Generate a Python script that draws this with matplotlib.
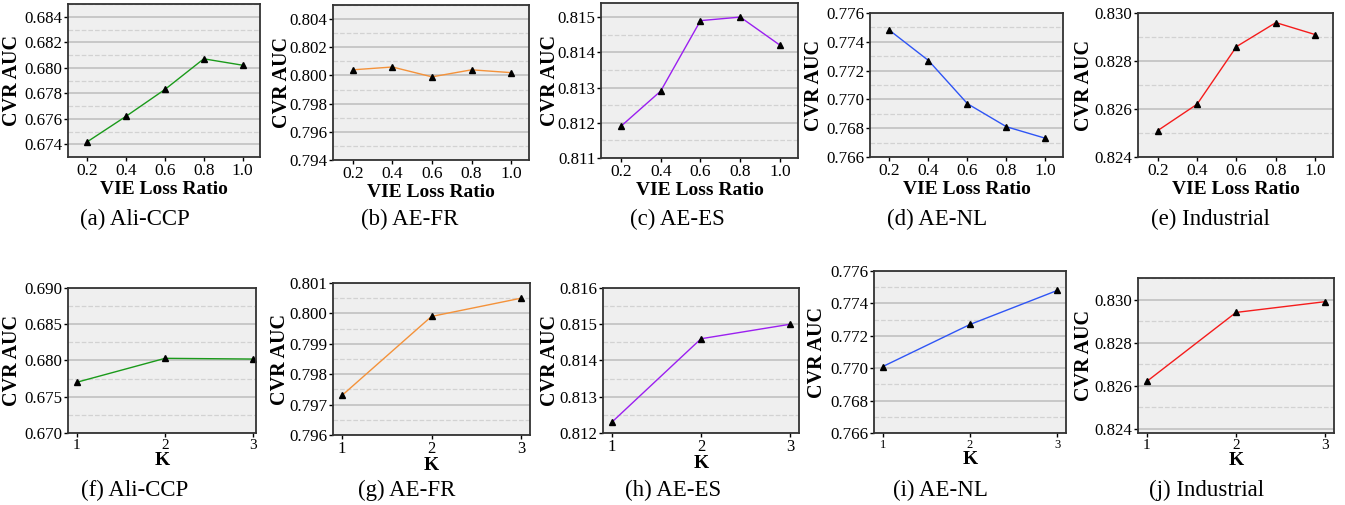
import matplotlib
matplotlib.use("Agg")
import matplotlib.pyplot as plt
from matplotlib.ticker import MultipleLocator, FormatStrFormatter

plt.rcParams['font.family'] = ['Liberation Serif', 'DejaVu Serif']

W, H = 1345, 505

ratio = [0.2, 0.4, 0.6, 0.8, 1.0]
k_vals = [1, 2, 3]

datasets = ['Ali-CCP', 'AE-FR', 'AE-ES', 'AE-NL', 'Industrial']
colors = ['#1a9a1a', '#f4923a', '#9b1ff0', '#2f55f5', '#f51c1c']

auc_ratio = [
    [0.6742, 0.6762, 0.6783, 0.6807, 0.6802],
    [0.8004, 0.8006, 0.7999, 0.8004, 0.8002],
    [0.8119, 0.8129, 0.8149, 0.8150, 0.8142],
    [0.7748, 0.7727, 0.7697, 0.7681, 0.7673],
    [0.8251, 0.8262, 0.8286, 0.8296, 0.8291],
]
auc_k = [
    [0.6770, 0.6803, 0.6802],
    [0.7973, 0.7999, 0.8005],
    [0.8123, 0.8146, 0.8150],
    [0.7701, 0.7727, 0.7748],
    [0.8262, 0.8294, 0.8299],
]

# axes limits / tick steps per panel
ylim_ratio = [(0.673, 0.685), (0.794, 0.805), (0.811, 0.8154), (0.766, 0.776), (0.824, 0.830)]
ystep_ratio = [0.002, 0.002, 0.001, 0.002, 0.002]
ylim_k = [(0.670, 0.690), (0.796, 0.801), (0.812, 0.816), (0.766, 0.776), (0.8238, 0.831)]
ystep_k = [0.005, 0.001, 0.001, 0.002, 0.002]

# pixel boxes (left, top, right, bottom)
box_ratio = [(68, 4, 260, 157), (333, 5, 529, 160), (601, 3, 798, 158),
             (870, 13, 1063, 157), (1138, 13, 1333, 157)]
box_k = [(68, 288, 256, 433), (333, 283, 530, 435), (603, 288, 799, 433),
         (874, 271, 1066, 433), (1138, 278, 1334, 433)]
# centre (in pixels) of the rotated y labels
ylab_x_top = [15, 285, 553, 817, 1087]
ylab_x_bot = [15, 283, 553, 820, 1087]
cap_x_top = [135, 410, 677, 937, 1210]
cap_x_bot = [135, 407, 673, 940, 1207]
k_tick_size = [11, 12, 12, 9, 11]

fig = plt.figure(figsize=(W / 100, H / 100), dpi=100)


def make_ax(box):
    l, t, r, b = box
    return fig.add_axes([l / W, 1 - b / H, (r - l) / W, (b - t) / H])


def style(ax, box, ylim, step, xlabel, ylab_x):
    ax.set_facecolor('#efefef')
    ax.set_ylim(*ylim)
    ax.yaxis.set_major_locator(MultipleLocator(step))
    ax.yaxis.set_minor_locator(MultipleLocator(step / 2))
    ax.yaxis.set_major_formatter(FormatStrFormatter('%.3f'))
    ax.grid(True, which='major', axis='y', color='#c4c4c4', lw=1.3)
    ax.grid(True, which='minor', axis='y', color='#d2d2d2', lw=0.9, ls='--')
    ax.set_axisbelow(True)
    ax.tick_params(axis='y', which='minor', length=0)
    ax.tick_params(which='major', length=3, width=1, pad=1)
    ax.tick_params(axis='y', labelsize=12.2)
    ax.tick_params(axis='x', labelsize=12.5)
    for s in ax.spines.values():
        s.set_color('#333333')
        s.set_linewidth(1.3)
    ax.set_ylabel('CVR AUC', fontsize=14.5, fontweight='bold')
    l, t, r, b = box
    ax.yaxis.set_label_coords((ylab_x + 7 - l) / (r - l), 0.5)
    ax.set_xlabel(xlabel, fontsize=14, fontweight='bold', labelpad=2)


letters = 'abcdefghij'
for i in range(5):
    ax = make_ax(box_ratio[i])
    ax.plot(ratio, auc_ratio[i], color=colors[i], lw=1.0, marker='^',
            markersize=4.5, markerfacecolor='black', markeredgecolor='black')
    ax.set_xlim(0.1, 1.09)
    ax.set_xticks(ratio)
    ax.set_xticklabels(['0.2', '0.4', '0.6', '0.8', '1.0'])
    style(ax, box_ratio[i], ylim_ratio[i], ystep_ratio[i], 'VIE Loss Ratio', ylab_x_top[i])
    fig.text(cap_x_top[i] / W, 1 - 219 / H, f'({letters[i]}) {datasets[i]}',
             ha='center', va='center', fontsize=16.5)

for i in range(5):
    ax = make_ax(box_k[i])
    ax.plot(k_vals, auc_k[i], color=colors[i], lw=1.0, marker='^',
            markersize=4.5, markerfacecolor='black', markeredgecolor='black')
    ax.set_xlim(0.9, 3.1 if i else 3.03)
    ax.set_xticks(k_vals)
    style(ax, box_k[i], ylim_k[i], ystep_k[i], 'K', ylab_x_bot[i])
    ax.tick_params(axis='x', labelsize=k_tick_size[i])
    ax.xaxis.labelpad = 0
    fig.text(cap_x_bot[i] / W, 1 - 490 / H, f'({letters[i + 5]}) {datasets[i]}',
             ha='center', va='center', fontsize=16.5)

fig.savefig('out.png', dpi=100)
